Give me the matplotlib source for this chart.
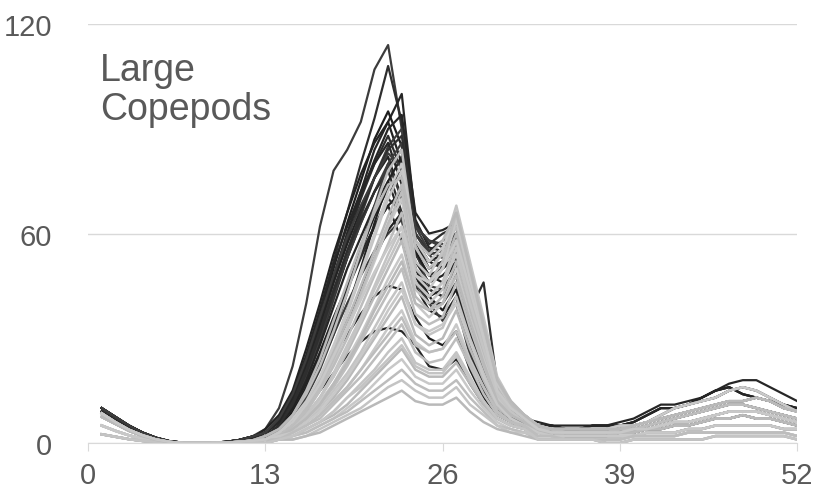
import matplotlib
matplotlib.use("Agg")
from matplotlib import pyplot as plt

weeks = list(range(1, 53))

# weeks 1-12 (winter tail, dropping to zero)
early_a = [10, 7.5, 5, 3, 1.5, 0.5, 0.1, 0, 0.1, 0.3, 0.8, 1.8]
early_b = [9, 6.5, 4.2, 2.4, 1.1, 0.3, 0, 0, 0.1, 0.2, 0.6, 1.3]
early_c = [7.5, 5.5, 3.5, 2, 0.9, 0.2, 0, 0, 0, 0.1, 0.3, 0.7]
early_d = [8.5, 6, 3.8, 2.2, 1, 0.3, 0, 0, 0, 0.1, 0.3, 0.6]
early_e = [5, 3.5, 2.2, 1.2, 0.5, 0.2, 0, 0, 0, 0, 0.1, 0.3]
early_f = [2.5, 1.8, 1.1, 0.6, 0.3, 0.1, 0, 0, 0, 0, 0, 0.2]

# weeks 13-32 (spring bloom), dark years
dark_01 = [4, 10, 22, 40, 62, 78, 84, 92, 107, 114, 90, 62, 58, 57, 56, 36, 22, 14, 10, 8]
dark_02 = [3, 7, 14, 25, 38, 52, 66, 80, 93, 108, 92, 60, 55, 58, 60, 38, 22, 14, 10, 8]
dark_03 = [3, 6, 12, 22, 34, 47, 60, 72, 84, 92, 100, 64, 56, 55, 58, 36, 21, 13, 9, 7]
dark_04 = [3, 7, 13, 24, 36, 50, 63, 75, 87, 95, 85, 58, 52, 54, 57, 35, 20, 13, 9, 7]
dark_05 = [4, 8, 15, 27, 40, 54, 66, 77, 86, 92, 80, 60, 54, 55, 59, 37, 21, 13, 9, 7]
dark_06 = [2, 5, 10, 18, 29, 41, 53, 65, 76, 85, 90, 62, 55, 53, 56, 34, 20, 12, 9, 7]
dark_07 = [3, 6, 12, 21, 33, 46, 58, 70, 80, 88, 78, 56, 50, 52, 55, 33, 19, 12, 8, 6]
dark_08 = [3, 7, 14, 25, 38, 51, 62, 72, 80, 86, 74, 54, 48, 50, 53, 32, 19, 12, 8, 6]
dark_09 = [2, 5, 10, 19, 30, 42, 53, 63, 72, 79, 84, 58, 52, 50, 54, 33, 20, 12, 8, 6]
dark_10 = [3, 6, 12, 22, 34, 46, 57, 67, 76, 82, 70, 52, 46, 48, 52, 31, 18, 11, 8, 6]
dark_11 = [2, 5, 10, 19, 30, 42, 53, 63, 72, 80, 70, 55, 45, 44, 50, 30, 18, 11, 8, 6]
dark_12 = [3, 6, 12, 21, 32, 44, 55, 64, 72, 78, 66, 50, 44, 42, 48, 29, 17, 11, 7, 6]
dark_13 = [2, 5, 10, 18, 28, 39, 50, 59, 68, 75, 64, 48, 40, 40, 46, 28, 17, 10, 7, 5]
dark_14 = [2, 4, 9, 16, 25, 35, 45, 54, 62, 68, 72, 50, 42, 38, 44, 27, 16, 10, 7, 5]
dark_15 = [2, 5, 10, 17, 26, 36, 45, 54, 62, 68, 58, 45, 38, 36, 42, 26, 15, 10, 7, 5]
dark_16 = [2, 4, 8, 14, 22, 31, 40, 48, 55, 60, 64, 46, 40, 35, 40, 25, 15, 9, 6, 5]
dark_17 = [2, 4, 8, 15, 24, 34, 44, 53, 62, 70, 66, 50, 44, 42, 48, 38, 46, 17, 10, 7]
dark_18 = [1, 3, 6, 10, 15, 20, 25, 29, 32, 33, 32, 28, 22, 21, 24, 17, 11, 7, 5, 4]
dark_19 = [1, 3, 7, 12, 18, 25, 31, 37, 42, 45, 44, 36, 30, 28, 32, 21, 13, 8, 6, 4]
dark_20 = [1, 3, 6, 11, 18, 27, 38, 50, 63, 75, 82, 58, 50, 52, 56, 34, 20, 12, 8, 6]
dark_21 = [2, 4, 7, 13, 21, 31, 43, 56, 68, 80, 86, 60, 54, 50, 58, 36, 21, 13, 9, 7]
dark_22 = [2, 5, 11, 20, 31, 43, 55, 66, 76, 84, 88, 63, 57, 60, 62, 38, 22, 13, 9, 7]
dark_23 = [3, 6, 13, 23, 35, 48, 60, 71, 81, 90, 94, 66, 60, 61, 63, 40, 23, 14, 10, 7]
dark_24 = [2, 4, 8, 14, 23, 33, 44, 55, 65, 73, 78, 55, 48, 46, 52, 31, 18, 11, 8, 6]
dark_25 = [1, 3, 6, 11, 18, 26, 35, 44, 53, 61, 66, 48, 42, 44, 50, 30, 18, 11, 7, 5]
dark_26 = [3, 7, 14, 24, 36, 48, 59, 68, 76, 83, 79, 62, 58, 56, 60, 37, 21, 13, 9, 7]

# weeks 13-32, light years
grey_01 = [2, 4, 8, 14, 22, 32, 43, 55, 67, 78, 84, 56, 50, 54, 62, 46, 30, 16, 11, 8]
grey_02 = [1, 3, 6, 11, 18, 27, 37, 48, 59, 70, 78, 52, 48, 55, 68, 52, 36, 19, 12, 8]
grey_03 = [1, 3, 6, 11, 18, 26, 35, 45, 55, 65, 74, 50, 46, 50, 60, 45, 30, 16, 10, 7]
grey_04 = [1, 2, 5, 9, 15, 23, 32, 42, 52, 62, 70, 48, 44, 50, 64, 47, 32, 17, 11, 7]
grey_05 = [1, 2, 5, 9, 15, 22, 30, 39, 48, 57, 66, 46, 42, 46, 58, 42, 28, 15, 10, 7]
grey_06 = [1, 2, 4, 8, 13, 20, 28, 36, 45, 54, 62, 44, 40, 44, 56, 40, 26, 14, 9, 6]
grey_07 = [1, 2, 4, 8, 13, 19, 26, 34, 42, 50, 58, 42, 38, 42, 52, 38, 25, 13, 9, 6]
grey_08 = [1, 2, 4, 7, 12, 17, 24, 31, 39, 47, 54, 40, 36, 40, 50, 36, 24, 13, 8, 6]
grey_09 = [1, 2, 4, 7, 11, 16, 22, 29, 36, 43, 50, 37, 34, 36, 46, 33, 22, 12, 8, 6]
grey_10 = [1, 2, 3, 6, 10, 15, 20, 26, 33, 40, 46, 34, 31, 33, 42, 30, 20, 11, 7, 5]
grey_11 = [1, 2, 3, 6, 9, 13, 18, 24, 30, 36, 42, 31, 28, 30, 38, 27, 18, 10, 7, 5]
grey_12 = [1, 2, 3, 5, 8, 12, 16, 21, 27, 33, 38, 29, 26, 27, 34, 24, 16, 9, 6, 5]
grey_13 = [1, 1, 3, 5, 7, 11, 15, 19, 24, 29, 34, 26, 23, 24, 30, 22, 14, 8, 6, 4]
grey_14 = [1, 1, 2, 4, 6, 9, 13, 17, 21, 26, 30, 23, 21, 21, 26, 19, 12, 7, 5, 4]
grey_15 = [1, 1, 2, 4, 6, 8, 11, 15, 19, 23, 27, 21, 19, 19, 23, 17, 11, 7, 5, 4]
grey_16 = [0, 1, 2, 3, 5, 7, 10, 13, 17, 21, 24, 19, 17, 17, 21, 15, 10, 6, 4, 3]
grey_17 = [0, 1, 2, 3, 5, 7, 9, 12, 15, 18, 21, 17, 15, 15, 18, 13, 9, 5, 4, 3]
grey_18 = [0, 1, 1, 2, 4, 6, 8, 10, 13, 16, 18, 15, 13, 13, 16, 11, 8, 5, 3, 3]
grey_19 = [0, 1, 1, 2, 3, 5, 7, 9, 11, 13, 15, 12, 11, 11, 13, 9, 6, 4, 3, 2]
grey_20 = [1, 3, 7, 12, 19, 28, 38, 49, 60, 72, 80, 58, 52, 56, 64, 48, 32, 17, 11, 8]
grey_21 = [1, 2, 5, 10, 16, 24, 33, 43, 53, 63, 72, 50, 46, 52, 66, 50, 33, 18, 11, 8]
grey_22 = [1, 2, 4, 8, 13, 19, 27, 35, 44, 52, 60, 46, 42, 46, 54, 40, 27, 14, 9, 6]
grey_23 = [1, 2, 4, 7, 11, 17, 23, 30, 38, 45, 52, 40, 38, 40, 48, 35, 23, 12, 8, 6]
grey_24 = [1, 2, 3, 6, 9, 14, 19, 25, 31, 38, 44, 34, 32, 34, 40, 29, 19, 11, 7, 5]
grey_25 = [1, 1, 3, 5, 8, 12, 16, 21, 26, 31, 36, 28, 26, 27, 32, 23, 16, 9, 6, 5]
grey_26 = [0, 1, 2, 4, 6, 9, 13, 16, 20, 24, 28, 22, 20, 20, 25, 18, 12, 7, 5, 4]
grey_27 = [2, 4, 8, 15, 24, 35, 46, 57, 66, 74, 76, 58, 54, 58, 66, 50, 34, 18, 12, 8]
grey_28 = [1, 3, 6, 11, 17, 25, 33, 41, 49, 56, 62, 48, 46, 50, 58, 44, 30, 15, 10, 7]

# weeks 33-52 (autumn)
late_1 = [6, 5, 5, 5, 5, 5, 6, 7, 9, 11, 11, 12, 13, 15, 17, 18, 18, 16, 14, 12]
late_2 = [5, 5, 4, 4, 5, 5, 5, 6, 8, 10, 10, 11, 13, 15, 16, 14, 13, 12, 11, 10]
late_3 = [5, 4, 4, 4, 4, 4, 5, 5, 6, 8, 10, 11, 12, 13, 15, 16, 15, 13, 11, 9]
late_4 = [5, 4, 4, 4, 4, 4, 4, 5, 6, 7, 8, 9, 10, 11, 12, 12, 13, 12, 10, 9]
late_5 = [4, 4, 3, 3, 3, 3, 4, 4, 5, 6, 7, 8, 9, 10, 11, 11, 10, 9, 8, 7]
late_6 = [4, 3, 3, 3, 3, 3, 3, 4, 4, 5, 6, 6, 7, 8, 9, 9, 9, 8, 7, 6]
late_7 = [3, 3, 2, 2, 2, 2, 3, 3, 4, 4, 5, 5, 6, 7, 7, 8, 7, 7, 6, 5]
late_8 = [3, 2, 2, 2, 2, 2, 2, 2, 3, 3, 3, 4, 4, 5, 5, 5, 5, 5, 4, 4]
late_9 = [2, 2, 1, 1, 1, 1, 1, 2, 2, 2, 2, 3, 3, 3, 3, 3, 3, 3, 3, 2]
late_10 = [1, 1, 1, 1, 1, 0, 0, 1, 1, 1, 1, 1, 1, 2, 2, 2, 2, 2, 2, 1]

dark_years = [
    (early_a, dark_01, late_2), (early_a, dark_02, late_3), (early_b, dark_03, late_1),
    (early_a, dark_04, late_4), (early_b, dark_05, late_2), (early_a, dark_06, late_5),
    (early_b, dark_07, late_3), (early_a, dark_08, late_4), (early_b, dark_09, late_6),
    (early_a, dark_10, late_5), (early_b, dark_11, late_4), (early_a, dark_12, late_6),
    (early_b, dark_13, late_5), (early_d, dark_14, late_7), (early_b, dark_15, late_6),
    (early_d, dark_16, late_7), (early_b, dark_17, late_5), (early_c, dark_18, late_8),
    (early_d, dark_19, late_7), (early_c, dark_20, late_6), (early_b, dark_21, late_3),
    (early_a, dark_22, late_4), (early_b, dark_23, late_2), (early_d, dark_24, late_7),
    (early_c, dark_25, late_8), (early_a, dark_26, late_5),
]
grey_years = [
    (early_c, grey_01, late_3), (early_d, grey_02, late_4), (early_c, grey_03, late_5),
    (early_e, grey_04, late_4), (early_d, grey_05, late_6), (early_c, grey_06, late_5),
    (early_e, grey_07, late_7), (early_d, grey_08, late_6), (early_f, grey_09, late_8),
    (early_c, grey_10, late_7), (early_e, grey_11, late_8), (early_f, grey_12, late_9),
    (early_d, grey_13, late_8), (early_e, grey_14, late_9), (early_f, grey_15, late_10),
    (early_e, grey_16, late_9), (early_f, grey_17, late_10), (early_e, grey_18, late_9),
    (early_f, grey_19, late_10), (early_d, grey_20, late_3), (early_c, grey_21, late_5),
    (early_e, grey_22, late_6), (early_f, grey_23, late_7), (early_e, grey_24, late_8),
    (early_f, grey_25, late_9), (early_f, grey_26, late_10), (early_c, grey_27, late_4),
    (early_d, grey_28, late_6),
]
dark_colors = ['#3c3c3c', '#2e2e2e', '#262626', '#1e1e1e', '#222222']
grey_colors = ['#bdbdbd', '#c4c4c4', '#b9b9b9', '#c8c8c8']

plt.rcParams['font.family'] = ['Liberation Sans', 'DejaVu Sans']
fig = plt.figure(figsize=(8.19, 5.02), dpi=100)
ax = fig.add_axes([0.1075, 0.1155, 0.866, 0.8345])

for i, (e, m, l) in enumerate(dark_years):
    ax.plot(weeks, e + m + l, color=dark_colors[i % len(dark_colors)], lw=1.6, zorder=2)
for i, (e, m, l) in enumerate(grey_years):
    ax.plot(weeks, e + m + l, color=grey_colors[i % len(grey_colors)], lw=1.8, zorder=3)

ax.set_xlim(0, 52)
ax.set_ylim(0, 120)
ax.set_xticks([0, 13, 26, 39, 52])
ax.set_yticks([0, 60, 120])
ax.yaxis.grid(True, color='#d9d9d9', lw=1)
ax.set_axisbelow(True)
for s in ['top', 'right', 'left']:
    ax.spines[s].set_visible(False)
ax.spines['bottom'].set_color('#d9d9d9')
ax.tick_params(axis='x', length=6, color='#d9d9d9', pad=7, labelsize=21, labelcolor='#595959')
ax.tick_params(axis='y', length=0, pad=26, labelsize=21, labelcolor='#595959')

ax.text(0.9, 112, 'Large\nCopepods', fontsize=27, color='#595959', va='top', ha='left',
        linespacing=1.1)

fig.savefig('out.png', dpi=100)
